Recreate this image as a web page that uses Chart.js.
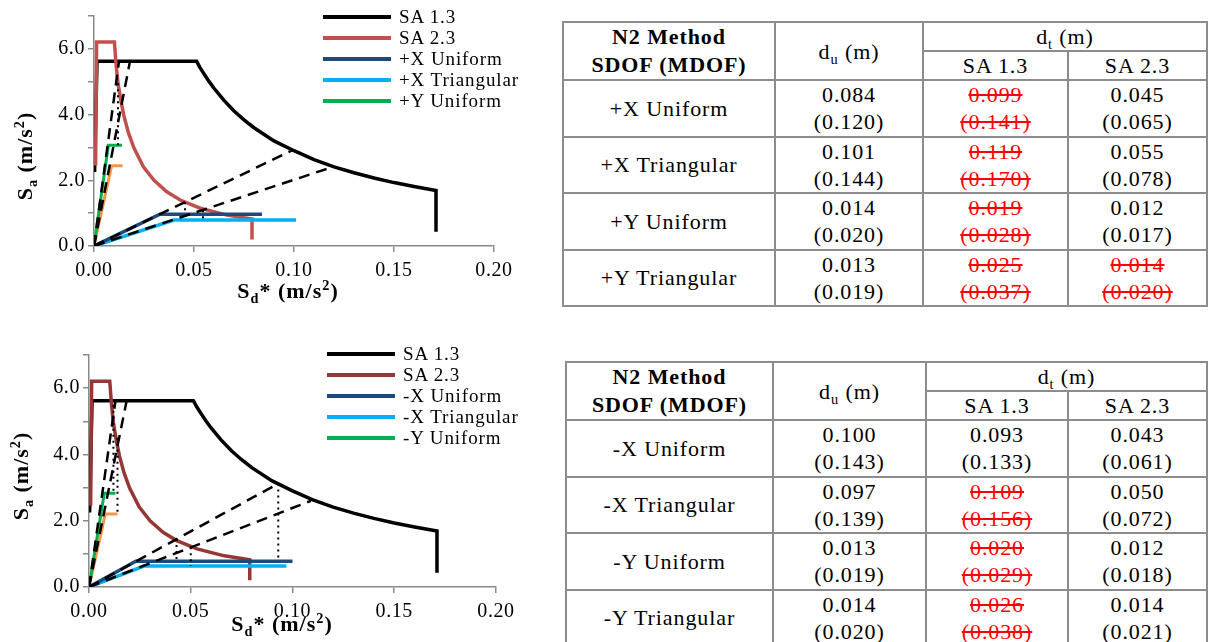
<!DOCTYPE html>
<html>
<head>
<meta charset="utf-8">
<script src="https://cdn.jsdelivr.net/npm/chart.js@4.4.1/dist/chart.umd.min.js"></script>
<style>
body{margin:0;background:#fff;width:1208px;height:642px;position:relative;overflow:hidden;font-family:"Liberation Serif","Times New Roman",serif;color:#000;}
canvas{position:absolute;left:0;}
.legend{position:absolute;font-size:19px;letter-spacing:0.9px;}
.legend .row{position:absolute;left:0;height:22px;line-height:22px;white-space:nowrap;}
.legend .ln{position:absolute;left:0;top:9px;width:68px;height:4px;}
.legend .tx{position:absolute;left:76px;top:0;}
.ttl{position:absolute;font-weight:bold;font-size:22px;letter-spacing:1px;white-space:nowrap;}
.ttl sub,.ttl sup,td sub{font-size:65%;line-height:0;}
table{position:absolute;border-collapse:collapse;table-layout:fixed;font-size:22px;letter-spacing:0.9px;text-align:center;}
td{border:2px solid #8c8c8c;padding:0;line-height:27px;vertical-align:middle;}
td.hd{font-weight:bold;line-height:28px;}
.bad{color:#ff0000;text-decoration:line-through;}
</style>
</head>
<body>
<canvas id="topChart" width="560" height="300" style="top:0"></canvas>
<canvas id="botChart" width="560" height="302" style="top:340px"></canvas>

<div class="ttl" style="left:25px;top:156px;transform:translate(-50%,-50%) rotate(-90deg);">S<sub>a</sub> (m/s<sup>2</sup>)</div>
<div class="ttl" style="left:288px;top:291px;transform:translate(-50%,-50%);">S<sub>d</sub>* (m/s<sup>2</sup>)</div>
<div class="ttl" style="left:21px;top:476px;transform:translate(-50%,-50%) rotate(-90deg);">S<sub>a</sub> (m/s<sup>2</sup>)</div>
<div class="ttl" style="left:282px;top:624px;transform:translate(-50%,-50%);">S<sub>d</sub>* (m/s<sup>2</sup>)</div>

<div class="legend" id="topLegend" style="left:323px;top:6px;"></div>
<div class="legend" id="botLegend" style="left:327px;top:343px;"></div>

<table id="topTable" style="left:562px;top:21px;width:644px;"></table>
<table id="botTable" style="left:565px;top:361px;width:641px;"></table>

<script>
// ---- elastic spectra (Sd [m], Sa [m/s2]) ----
const sa13Sd = [0.0003, 0.0015, 0.0513, 0.053, 0.055, 0.0575, 0.06, 0.065, 0.07, 0.075, 0.08, 0.09, 0.10, 0.11, 0.12, 0.13, 0.14, 0.15, 0.16, 0.171, 0.171];
const sa13Sa = [2.25, 5.62, 5.62, 5.43, 5.24, 5.01, 4.80, 4.43, 4.11, 3.84, 3.60, 3.20, 2.90, 2.63, 2.41, 2.23, 2.07, 1.93, 1.81, 1.69, 0.43];
const sa23Sd = [0.0008, 0.0013, 0.0102, 0.011, 0.012, 0.0135, 0.015, 0.0172, 0.020, 0.0247, 0.030, 0.0364, 0.0431, 0.0531, 0.0665, 0.079, 0.079];
const sa23Sa = [2.45, 6.21, 6.21, 5.55, 4.95, 4.40, 3.95, 3.45, 2.98, 2.41, 2.0, 1.65, 1.40, 1.15, 0.94, 0.82, 0.2];

// ---- bilinear SDOF curves, positive direction ----
const posXUniSd = [0, 0.033, 0.084];   const posXUniSa = [0, 0.97, 0.97];
const posXTriSd = [0, 0.040, 0.101];   const posXTriSa = [0, 0.79, 0.79];
const posYUniSd = [0, 0.0072, 0.014];  const posYUniSa = [0, 3.07, 3.07];
const posYTriSd = [0, 0.0088, 0.0143]; const posYTriSa = [0, 2.44, 2.44];
// elastic lines from origin (dashed) and target displacement marks (dotted)
const posElasticSd = [0.099, 0.119, 0.0125, 0.018];
const posElasticSa = [2.91, 2.40, 5.62, 5.62];
const posTargetSd = [0.0455, 0.0545, 0.012];
const posTargetTop = [1.33, 1.09, 4.95];
const posTargetBot = [0.97, 0.79, 3.07];

// ---- negative direction ----
const negXUniSd = [0, 0.023, 0.100];  const negXUniSa = [0, 0.78, 0.78];
const negXTriSd = [0, 0.027, 0.097];  const negXTriSa = [0, 0.63, 0.63];
const negYUniSd = [0, 0.0075, 0.013]; const negYUniSa = [0, 2.83, 2.83];
const negYTriSd = [0, 0.008, 0.014];  const negYTriSa = [0, 2.2, 2.2];
const negElasticSd = [0.093, 0.109, 0.013, 0.0185];
const negElasticSa = [3.12, 2.60, 5.62, 5.62];
const negTargetSd = [0.093, 0.043, 0.050, 0.012, 0.014];
const negTargetTop = [3.12, 1.45, 1.20, 5.5, 4.5];
const negTargetBot = [0.80, 0.78, 0.63, 2.83, 2.2];

// ---- tick labels ----
const xTickStep = 0.05, xMax = 0.2;
const yTickStep = 1, yMax = 7;

// ---- table values: SDOF (MDOF) ----
const posCases = ['+X Uniform', '+X Triangular', '+Y Uniform', '+Y Triangular'];
const posDu = [0.084, 0.101, 0.014, 0.013];
const posDuM = [0.120, 0.144, 0.020, 0.019];
const posDt13 = [0.099, 0.119, 0.019, 0.025];
const posDt13M = [0.141, 0.170, 0.028, 0.037];
const posDt23 = [0.045, 0.055, 0.012, 0.014];
const posDt23M = [0.065, 0.078, 0.017, 0.020];

const negCases = ['-X Uniform', '-X Triangular', '-Y Uniform', '-Y Triangular'];
const negDu = [0.100, 0.097, 0.013, 0.014];
const negDuM = [0.143, 0.139, 0.019, 0.020];
const negDt13 = [0.093, 0.109, 0.020, 0.026];
const negDt13M = [0.133, 0.156, 0.029, 0.038];
const negDt23 = [0.043, 0.050, 0.012, 0.014];
const negDt23M = [0.061, 0.072, 0.018, 0.021];

const BLACK = '#000000', DBLUE = '#1F497D', LBLUE = '#00B0F0', GREEN = '#00B050', ORANGE = '#F79646';
const SERIF = '"Liberation Serif", "Times New Roman", serif';

function pts(xs, ys) { return xs.map((x, i) => ({x: x, y: ys[i]})); }

function line(label, xs, ys, color, width, order) {
    return {label: label, data: pts(xs, ys), borderColor: color, backgroundColor: color,
        borderWidth: width, showLine: true, pointRadius: 0, fill: false, order: order};
}

function fromOrigin(sd, sa) {
    return sd.map((x, i) => ({label: 'elastic', data: [{x: 0, y: 0}, {x: x, y: sa[i]}],
        borderColor: BLACK, borderWidth: 2.5, borderDash: [11, 7], showLine: true, pointRadius: 0, order: 0}));
}
function verticals(sd, top, bot) {
    return sd.map((x, i) => ({label: 'target', data: [{x: x, y: top[i]}, {x: x, y: bot[i]}],
        borderColor: BLACK, borderWidth: 2, borderDash: [2, 4], showLine: true, pointRadius: 0, order: 0}));
}

// the source figure is slightly wider than tall, so ticks get a little letter spacing
const spacing = {id: 'spacing', beforeDraw(chart) { chart.ctx.letterSpacing = '0.6px'; }};

function makeChart(id, datasets, pad, yWidth, xHeight) {
    const tickFont = {family: SERIF, size: 20};
    new Chart(document.getElementById(id).getContext('2d'), {
        type: 'scatter',
        data: {datasets: datasets},
        plugins: [spacing],
        options: {
            responsive: false, animation: false,
            layout: {padding: pad},
            plugins: {legend: {display: false}, tooltip: {enabled: false}},
            scales: {
                x: {type: 'linear', min: 0, max: xMax,
                    ticks: {stepSize: xTickStep, callback: v => v.toFixed(2), font: tickFont, color: '#000', padding: 7, maxRotation: 0},
                    grid: {drawOnChartArea: false, drawTicks: true, tickLength: 6, color: '#8a8a8a', lineWidth: 1.5},
                    border: {color: '#8a8a8a', width: 1.5},
                    afterFit: s => { s.height = xHeight; }},
                y: {type: 'linear', min: 0, max: yMax,
                    ticks: {stepSize: yTickStep, callback: v => (v % 2 === 0 ? v.toFixed(1) : ''), font: tickFont, color: '#000', padding: 3},
                    grid: {drawOnChartArea: false, drawTicks: true, tickLength: 6, color: '#8a8a8a', lineWidth: 1.5},
                    border: {color: '#8a8a8a', width: 1.5},
                    afterFit: s => { s.width = yWidth; }}
            }
        }
    });
}

const topSets = [
    line('SA 1.3', sa13Sd, sa13Sa, BLACK, 3.5, 5),
    line('SA 2.3', sa23Sd, sa23Sa, '#C0504D', 3.5, 4),
    line('+X Uniform', posXUniSd, posXUniSa, DBLUE, 3.5, 3),
    line('+X Triangular', posXTriSd, posXTriSa, LBLUE, 3.5, 3),
    line('+Y Uniform', posYUniSd, posYUniSa, GREEN, 3, 3),
    line('+Y Triangular', posYTriSd, posYTriSa, ORANGE, 3, 3)
].concat(fromOrigin(posElasticSd, posElasticSa), verticals(posTargetSd, posTargetTop, posTargetBot));

const botSets = [
    line('SA 1.3', sa13Sd, sa13Sa, BLACK, 3.5, 5),
    line('SA 2.3', sa23Sd, sa23Sa, '#953735', 3.5, 4),
    line('-X Uniform', negXUniSd, negXUniSa, DBLUE, 3.5, 3),
    line('-X Triangular', negXTriSd, negXTriSa, LBLUE, 3.5, 3),
    line('-Y Uniform', negYUniSd, negYUniSa, GREEN, 3, 3),
    line('-Y Triangular', negYTriSd, negYTriSa, ORANGE, 3, 3)
].concat(fromOrigin(negElasticSd, negElasticSa), verticals(negTargetSd, negTargetTop, negTargetBot));

makeChart('topChart', topSets, {top: 16, right: 66, left: 0, bottom: 0}, 94, 54);
makeChart('botChart', botSets, {top: 15, right: 64, left: 0, bottom: 0}, 89, 55);

// legends show only the first five series (as in the original)
function legend(id, sets) {
    const el = document.getElementById(id);
    sets.slice(0, 5).forEach((d, i) => {
        const row = document.createElement('div');
        row.className = 'row';
        row.style.top = (i * 21) + 'px';
        row.innerHTML = '<span class="ln" style="background:' + d.borderColor + '"></span><span class="tx">' + d.label + '</span>';
        el.appendChild(row);
    });
}
legend('topLegend', topSets);
legend('botLegend', botSets);

function cell(v, vm, du) {
    const bad = v > du;
    return '<td' + (bad ? ' class="bad"' : '') + '>' + v.toFixed(3) + '<br>(' + vm.toFixed(3) + ')</td>';
}
function buildTable(id, widths, h1, h2, rowH, cases, du, duM, dt13, dt13M, dt23, dt23M) {
    let html = '<colgroup>' + widths.map(w => '<col style="width:' + w + 'px">').join('') + '</colgroup>';
    html += '<tr style="height:' + h1 + 'px"><td class="hd" rowspan="2">N2 Method<br>SDOF (MDOF)</td>' +
        '<td rowspan="2">d<sub>u</sub> (m)</td><td colspan="2">d<sub>t</sub> (m)</td></tr>';
    html += '<tr style="height:' + h2 + 'px"><td>SA 1.3</td><td>SA 2.3</td></tr>';
    cases.forEach((c, i) => {
        html += '<tr style="height:' + rowH + 'px"><td>' + c + '</td>' +
            '<td>' + du[i].toFixed(3) + '<br>(' + duM[i].toFixed(3) + ')</td>' +
            cell(dt13[i], dt13M[i], du[i]) + cell(dt23[i], dt23M[i], du[i]) + '</tr>';
    });
    document.getElementById(id).innerHTML = html;
}
buildTable('topTable', [212, 148, 145, 139], 28, 29, 56.5, posCases, posDu, posDuM, posDt13, posDt13M, posDt23, posDt23M);
buildTable('botTable', [207, 153, 142, 139], 26, 28, 56.5, negCases, negDu, negDuM, negDt13, negDt13M, negDt23, negDt23M);
</script>
</body>
</html>
